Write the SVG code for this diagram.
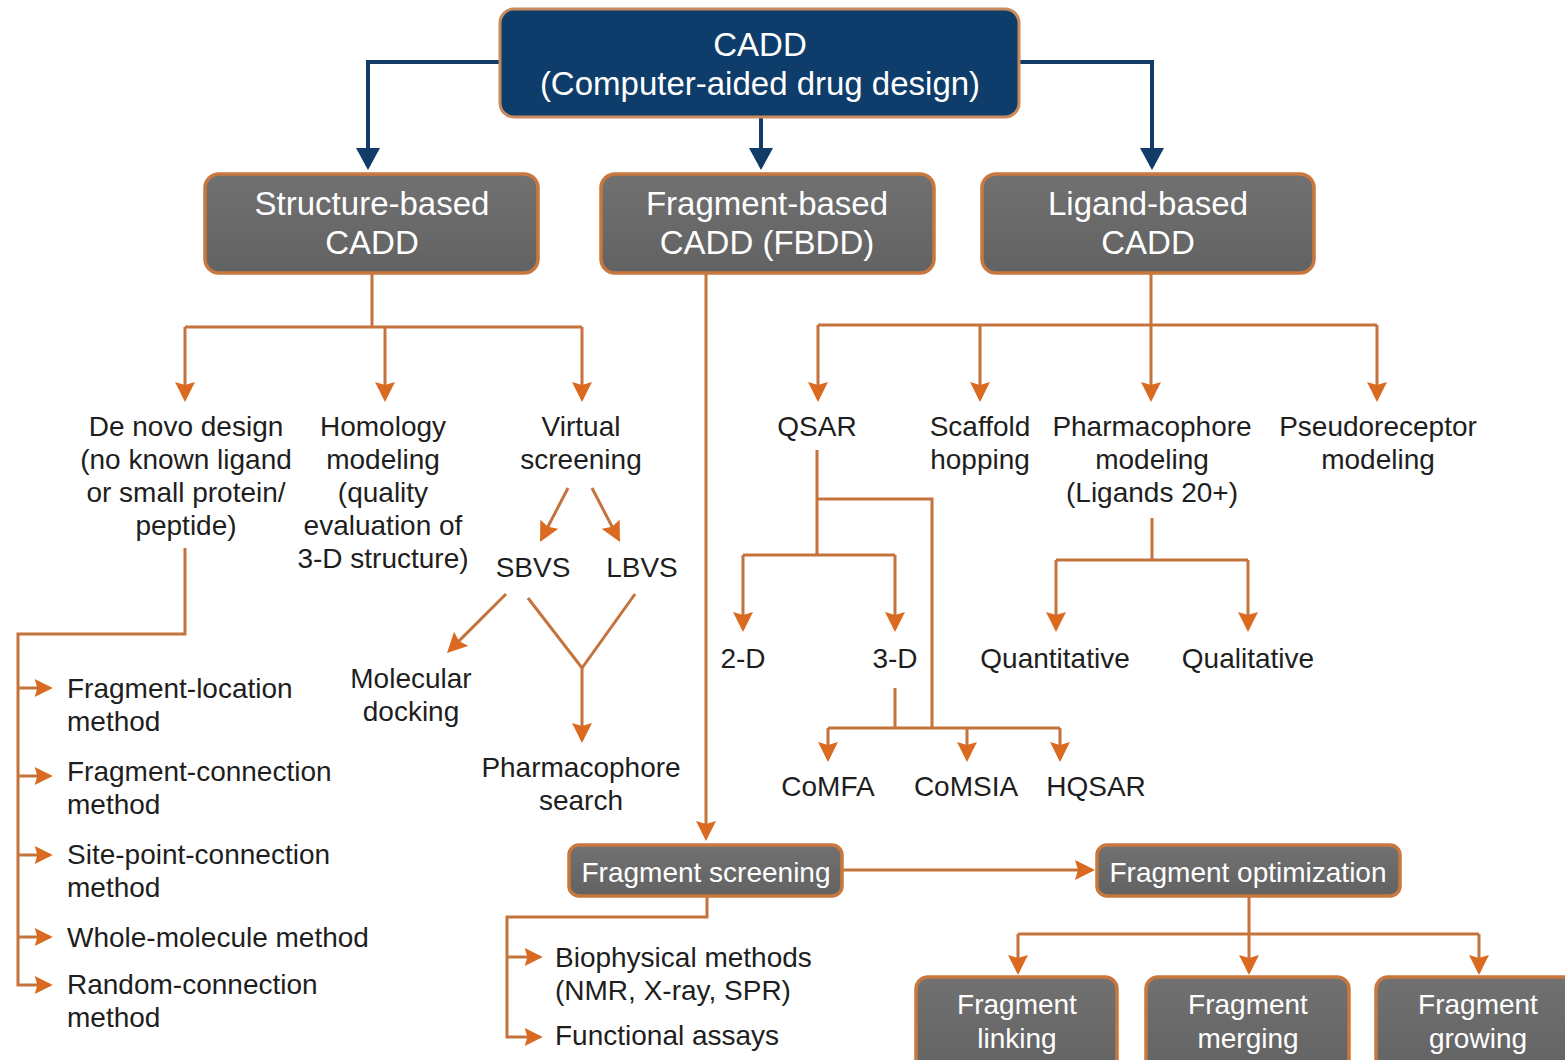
<svg xmlns="http://www.w3.org/2000/svg" width="1565" height="1060" viewBox="0 0 1565 1060">
<defs>
<marker id="ao" viewBox="0 0 20 20" refX="17" refY="10" markerWidth="20" markerHeight="20" markerUnits="userSpaceOnUse" orient="auto"><path d="M0,0 L20,10 L0,20 L3,10 z" fill="#d96a1f"/></marker>
<marker id="as" viewBox="0 0 20 20" refX="17" refY="10" markerWidth="20" markerHeight="18" markerUnits="userSpaceOnUse" orient="auto"><path d="M0,0 L20,10 L0,20 L3,10 z" fill="#d96a1f"/></marker>
<marker id="ab" viewBox="0 0 22 24" refX="19" refY="12" markerWidth="22" markerHeight="24" markerUnits="userSpaceOnUse" orient="auto"><path d="M0,0 L22,12 L0,24 z" fill="#123c68"/></marker>
<linearGradient id="gg" x1="0" y1="0" x2="0" y2="1"><stop offset="0" stop-color="#717171"/><stop offset="1" stop-color="#626262"/></linearGradient>
</defs>
<style>
.t{font-family:"Liberation Sans",Arial,sans-serif;font-size:28px;fill:#1e1e1e;text-anchor:middle}
.l{font-family:"Liberation Sans",Arial,sans-serif;font-size:28px;fill:#1e1e1e;text-anchor:start}
.w{font-family:"Liberation Sans",Arial,sans-serif;font-size:33px;fill:#fff;text-anchor:middle}
.ws{font-family:"Liberation Sans",Arial,sans-serif;font-size:28px;fill:#fff;text-anchor:middle}
.g{fill:url(#gg);stroke:#c8783f;stroke-width:3.5}
.b{fill:#0e3d6b;stroke:#c98a5e;stroke-width:3}
.o{fill:none;stroke:#c5733c;stroke-width:3}
.oa{fill:none;stroke:#c5733c;stroke-width:3;marker-end:url(#ao)}
.os{fill:none;stroke:#c5733c;stroke-width:3;marker-end:url(#as)}
.bl{fill:none;stroke:#123c68;stroke-width:4;marker-end:url(#ab)}
</style>
<rect width="1565" height="1060" fill="#ffffff"/>

<g id="connectors">
<path class="bl" d="M499,62 H368 V167"/>
<path class="bl" d="M761,117 V167"/>
<path class="bl" d="M1019,62 H1152 V167"/>

<path class="o" d="M372,273 V327 M185,327 H582"/>
<path class="oa" d="M185,327 V399"/>
<path class="oa" d="M385,327 V399"/>
<path class="oa" d="M582,327 V399"/>

<path class="oa" d="M568,488 L541.4,539.3"/>
<path class="oa" d="M592,488 L618.6,539.3"/>
<path class="oa" d="M506,594 L449.1,650.9"/>
<path class="o" d="M528,598 L582,668 L635,594"/>
<path class="oa" d="M582,668 V740"/>

<path class="os" d="M185,548 V634 H18 V985 H50"/>
<path class="os" d="M18,688 H50"/>
<path class="os" d="M18,776 H50"/>
<path class="os" d="M18,855 H50"/>
<path class="os" d="M18,937 H50"/>

<path class="oa" d="M706,273 V838"/>
<path class="oa" d="M843,870 H1092"/>
<path class="os" d="M707,896 V917 H507 V1037 H540"/>
<path class="os" d="M507,957 H540"/>

<path class="o" d="M1249,896 V934 M1018,934 H1479"/>
<path class="oa" d="M1018,934 V972"/>
<path class="oa" d="M1249,934 V972"/>
<path class="oa" d="M1479,934 V972"/>

<path class="o" d="M1151,273 V325 M818,325 H1377"/>
<path class="oa" d="M818,325 V399"/>
<path class="oa" d="M980,325 V399"/>
<path class="oa" d="M1151,325 V399"/>
<path class="oa" d="M1377,325 V399"/>

<path class="o" d="M817,450 V555 M817,499 H932 V728 M743,555 H895"/>
<path class="oa" d="M743,555 V629"/>
<path class="oa" d="M895,555 V629"/>
<path class="o" d="M895,688 V728 M828,728 H1060"/>
<path class="oa" d="M828,728 V759"/>
<path class="oa" d="M967,728 V759"/>
<path class="oa" d="M1060,728 V759"/>

<path class="o" d="M1152,518 V560 M1056,560 H1248"/>
<path class="oa" d="M1056,560 V629"/>
<path class="oa" d="M1248,560 V629"/>
</g>

<g id="cadd"><rect class="b" x="500" y="9" width="519" height="108" rx="14"/>
<text class="w" x="760" y="56">CADD</text><text class="w" x="760" y="95">(Computer-aided drug design)</text></g>

<g id="structure"><rect class="g" x="205" y="174" width="333" height="99" rx="14"/>
<text class="w" x="372" y="215">Structure-based</text><text class="w" x="372" y="254">CADD</text></g>
<g id="fragment"><rect class="g" x="601" y="174" width="333" height="99" rx="14"/>
<text class="w" x="767" y="215">Fragment-based</text><text class="w" x="767" y="254">CADD (FBDD)</text></g>
<g id="ligand"><rect class="g" x="982" y="174" width="332" height="99" rx="14"/>
<text class="w" x="1148" y="215">Ligand-based</text><text class="w" x="1148" y="254">CADD</text></g>

<g id="denovo"><text class="t" x="186" y="436">De novo design</text><text class="t" x="186" y="469">(no known ligand</text><text class="t" x="186" y="502">or small protein/</text><text class="t" x="186" y="535">peptide)</text></g>
<g id="homology"><text class="t" x="383" y="436">Homology</text><text class="t" x="383" y="469">modeling</text><text class="t" x="383" y="502">(quality</text><text class="t" x="383" y="535">evaluation of</text><text class="t" x="383" y="568">3-D structure)</text></g>
<g id="virtual"><text class="t" x="581" y="436">Virtual</text><text class="t" x="581" y="469">screening</text></g>
<g id="sbvs"><text class="t" x="533" y="577">SBVS</text></g>
<g id="lbvs"><text class="t" x="642" y="577">LBVS</text></g>
<g id="docking"><text class="t" x="411" y="688">Molecular</text><text class="t" x="411" y="721">docking</text></g>
<g id="pharmsearch"><text class="t" x="581" y="777">Pharmacophore</text><text class="t" x="581" y="810">search</text></g>

<g id="m1"><text class="l" x="67" y="698">Fragment-location</text><text class="l" x="67" y="731">method</text></g>
<g id="m2"><text class="l" x="67" y="781">Fragment-connection</text><text class="l" x="67" y="814">method</text></g>
<g id="m3"><text class="l" x="67" y="864">Site-point-connection</text><text class="l" x="67" y="897">method</text></g>
<g id="m4"><text class="l" x="67" y="947">Whole-molecule method</text></g>
<g id="m5"><text class="l" x="67" y="994">Random-connection</text><text class="l" x="67" y="1027">method</text></g>

<g id="screening"><rect class="g" x="569" y="845" width="273" height="51" rx="10"/><text class="ws" x="706" y="882">Fragment screening</text></g>
<g id="biophys"><text class="l" x="555" y="967">Biophysical methods</text><text class="l" x="555" y="1000">(NMR, X-ray, SPR)</text></g>
<g id="functional"><text class="l" x="555" y="1045">Functional assays</text></g>

<g id="optimization"><rect class="g" x="1097" y="845" width="303" height="51" rx="10"/><text class="ws" x="1248" y="882">Fragment optimization</text></g>
<g id="linking"><rect class="g" x="916" y="977" width="201" height="100" rx="12"/><text class="ws" x="1017" y="1014">Fragment</text><text class="ws" x="1017" y="1048">linking</text></g>
<g id="merging"><rect class="g" x="1146" y="977" width="203" height="100" rx="12"/><text class="ws" x="1248" y="1014">Fragment</text><text class="ws" x="1248" y="1048">merging</text></g>
<g id="growing"><rect class="g" x="1376" y="977" width="210" height="100" rx="12"/><text class="ws" x="1478" y="1014">Fragment</text><text class="ws" x="1478" y="1048">growing</text></g>

<g id="qsar"><text class="t" x="817" y="436">QSAR</text></g>
<g id="scaffold"><text class="t" x="980" y="436">Scaffold</text><text class="t" x="980" y="469">hopping</text></g>
<g id="pharmmodel"><text class="t" x="1152" y="436">Pharmacophore</text><text class="t" x="1152" y="469">modeling</text><text class="t" x="1152" y="502">(Ligands 20+)</text></g>
<g id="pseudo"><text class="t" x="1378" y="436">Pseudoreceptor</text><text class="t" x="1378" y="469">modeling</text></g>
<g id="d2"><text class="t" x="743" y="668">2-D</text></g>
<g id="d3"><text class="t" x="895" y="668">3-D</text></g>
<g id="quant"><text class="t" x="1055" y="668">Quantitative</text></g>
<g id="qual"><text class="t" x="1248" y="668">Qualitative</text></g>
<g id="comfa"><text class="t" x="828" y="796">CoMFA</text></g>
<g id="comsia"><text class="t" x="966" y="796">CoMSIA</text></g>
<g id="hqsar"><text class="t" x="1096" y="796">HQSAR</text></g>
</svg>
